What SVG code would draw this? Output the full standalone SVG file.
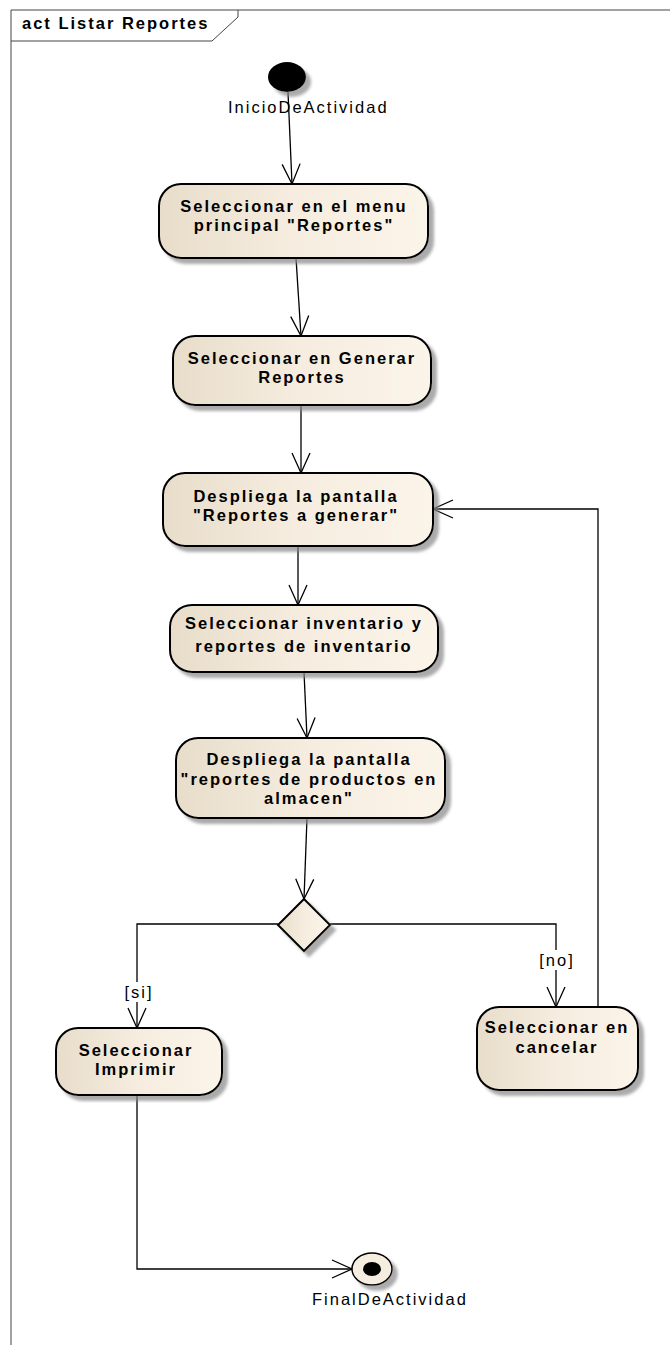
<svg xmlns="http://www.w3.org/2000/svg" width="670" height="1345" viewBox="0 0 670 1345">
<style>
.node{fill:url(#g);stroke:#000;stroke-width:2;filter:url(#sh)}
.t{font-family:"Liberation Sans",Arial,sans-serif;font-size:16.5px;font-weight:bold;letter-spacing:2px;text-anchor:middle;fill:#000}
.l{font-family:"Liberation Sans",Arial,sans-serif;font-size:16.5px;letter-spacing:2px;fill:#000}
.c{fill:none;stroke:#000;stroke-width:1.3}
.a{marker-end:url(#arr)}
</style>
<defs>
<linearGradient id="g" x1="0" y1="0" x2="1" y2="0">
<stop offset="0" stop-color="#E8DDCA"/>
<stop offset="0.5" stop-color="#F6EDE0"/>
<stop offset="1" stop-color="#FBF4E9"/>
</linearGradient>
<filter id="sh" x="-10%" y="-10%" width="130%" height="140%">
<feDropShadow dx="5" dy="5" stdDeviation="1.5" flood-color="#888" flood-opacity="0.7"/>
</filter>
<marker id="arr" markerUnits="userSpaceOnUse" viewBox="-22 -11 24 22" refX="0" refY="0" markerWidth="24" markerHeight="22" orient="auto" overflow="visible">
<path d="M-20,-9 L0,0 L-20,9" fill="none" stroke="#000" stroke-width="1.3"/>
</marker>
</defs>
<rect width="670" height="1345" fill="#fff"/>
<g id="frame">
<path d="M11,1345 V10 H670" fill="none" stroke="#444" stroke-width="1"/>
<path d="M11,41 H212 L238,17 V10" fill="none" stroke="#444" stroke-width="1"/>
<text x="22" y="29" class="t" style="text-anchor:start">act Listar Reportes</text>
</g>
<g id="connectors">
<path class="c a" d="M288,92 L292,184"/>
<path class="c a" d="M296,258 L301,336"/>
<path class="c a" d="M301,405 L301,473"/>
<path class="c a" d="M298,546 L298,605"/>
<path class="c a" d="M304,672 L307,738"/>
<path class="c a" d="M307,818 L304,899"/>
<path class="c a" d="M278,924 H137 V1028"/>
<path class="c a" d="M330,924 H556 V1007"/>
<path class="c a" d="M598,1007 V509 H433"/>
<path class="c a" d="M137,1095 V1269 H352"/>
<rect x="122" y="982" width="32" height="20" fill="#fff"/>
<text x="139" y="998" class="l" style="text-anchor:middle">[si]</text>
<rect x="536" y="950" width="40" height="20" fill="#fff"/>
<text x="557" y="966" class="l" style="text-anchor:middle">[no]</text>
</g>
<g id="start">
<ellipse cx="287" cy="77" rx="19" ry="15" fill="#000" filter="url(#sh)"/>
<text x="228" y="113" class="l">InicioDeActividad</text>
</g>
<g id="n1">
<rect class="node" x="159" y="184" width="269" height="74" rx="22"/>
<text class="t" x="294" y="212">Seleccionar en el menu</text>
<text class="t" x="294" y="231">principal "Reportes"</text>
</g>
<g id="n2">
<rect class="node" x="173" y="336" width="258" height="69" rx="22"/>
<text class="t" x="302" y="364">Seleccionar en Generar</text>
<text class="t" x="302" y="383">Reportes</text>
</g>
<g id="n3">
<rect class="node" x="163" y="473" width="270" height="73" rx="22"/>
<text class="t" x="296" y="502">Despliega la pantalla</text>
<text class="t" x="296" y="521">"Reportes a generar"</text>
</g>
<g id="n4">
<rect class="node" x="170" y="605" width="268" height="67" rx="22"/>
<text class="t" x="304" y="629">Seleccionar inventario y</text>
<text class="t" x="304" y="652">reportes de inventario</text>
</g>
<g id="n5">
<rect class="node" x="176" y="738" width="269" height="80" rx="22"/>
<text class="t" x="309" y="765">Despliega la pantalla</text>
<text class="t" x="309" y="785">"reportes de productos en</text>
<text class="t" x="309" y="804">almacen"</text>
</g>
<g id="decision">
<polygon class="node" points="304,899 330,925 304,951 278,925"/>
</g>
<g id="n6">
<rect class="node" x="56" y="1028" width="166" height="67" rx="22"/>
<text class="t" x="136" y="1056">Seleccionar</text>
<text class="t" x="136" y="1075">Imprimir</text>
</g>
<g id="n7">
<rect class="node" x="477" y="1007" width="161" height="83" rx="22"/>
<text class="t" x="557" y="1033">Seleccionar en</text>
<text class="t" x="557" y="1053">cancelar</text>
</g>
<g id="end">
<ellipse cx="372" cy="1269" rx="20" ry="16" fill="#F5EDE0" stroke="#000" stroke-width="1.5" filter="url(#sh)"/>
<ellipse cx="372" cy="1269" rx="9" ry="7" fill="#000"/>
<text x="312" y="1305" class="l">FinalDeActividad</text>
</g>
</svg>
